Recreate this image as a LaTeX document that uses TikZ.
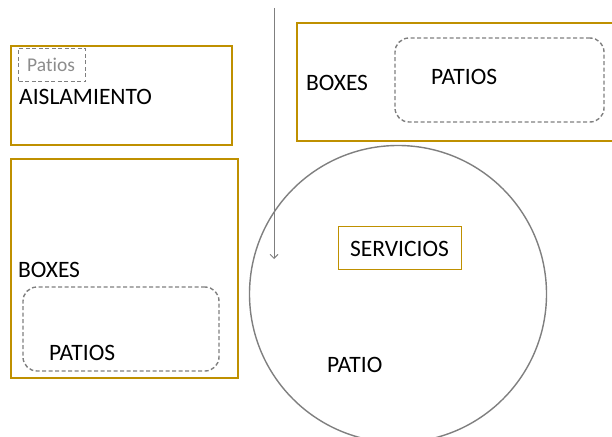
\documentclass[tikz,border=0pt]{standalone}
\usepackage{fontspec}
\setmainfont{Carlito}
\usetikzlibrary{positioning,arrows.meta}
\definecolor{oro}{HTML}{BF9000}
\definecolor{gris}{HTML}{7F7F7F}
\definecolor{grisclaro}{HTML}{8C8C8C}

\tikzset{
  marco/.style={draw=oro,line width=2.6pt,inner sep=0pt},
  marcofino/.style={draw=oro,line width=1.2pt,inner sep=0pt},
  discont/.style={draw=gris,line width=1.4pt,dash pattern=on 4pt off 2.5pt,inner sep=0pt},
  rotulo/.style={inner sep=0pt,anchor=base west,font=\fontsize{23.5}{28}\selectfont},
}

\begin{document}
\begin{tikzpicture}[x=1pt,y=-1pt]
  \clip (0,0) rectangle (612,436);
  % marcos dorados
  \node[marco,minimum width=221pt,minimum height=99pt] (aisl) at (121.5,95.5) {};
  \node[marco,minimum width=227pt,minimum height=219pt] (boxesizq) at (124.5,268.5) {};
  \node[marco,minimum width=343pt,minimum height=118pt] (boxesder) at (468.5,82) {};
  % patios discontinuos
  \node[discont,line width=1.2pt,minimum width=67pt,minimum height=33pt] (patiochico) at (52,65) {};
  \node[discont,rounded corners=14pt,minimum width=209pt,minimum height=84pt] (patiosder) at (499.5,80) {};
  \node[discont,rounded corners=14pt,minimum width=196pt,minimum height=84pt] (patiosizq) at (121,329) {};
  % patio circular
  \node[circle,draw=gris,line width=1.4pt,minimum size=297pt] (patio) at (398,294) {};
  \node[marcofino,minimum width=123pt,minimum height=43pt] (servicios) at (400,248) {};
  % textos
  \node[rotulo,font=\addfontfeatures{Ligatures=NoCommon}\fontsize{19.5}{23}\selectfont,text=grisclaro] (tpatios) at (27,71.5) {Patios};
  \node[rotulo] (taisl) at (19,104) {AISLAMIENTO};
  \node[rotulo] (tboxesder) at (306,90) {BOXES};
  \node[rotulo] (tpatiosder) at (431,84) {PATIOS};
  \node[rotulo] (tboxesizq) at (18,277) {BOXES};
  \node[rotulo] (tpatiosizq) at (49,360.5) {PATIOS};
  \node[rotulo] (tservicios) at (350,256.5) {SERVICIOS};
  \node[rotulo] (tpatio) at (327,372.5) {PATIO};
  % flecha
  \coordinate (ini) at (274,8);
  \coordinate (fin) at (274,259);
  \draw[gris,line width=0.9pt,-{Straight Barb[length=4pt,width=8pt]}] (ini) -- (fin);
\end{tikzpicture}
\end{document}
